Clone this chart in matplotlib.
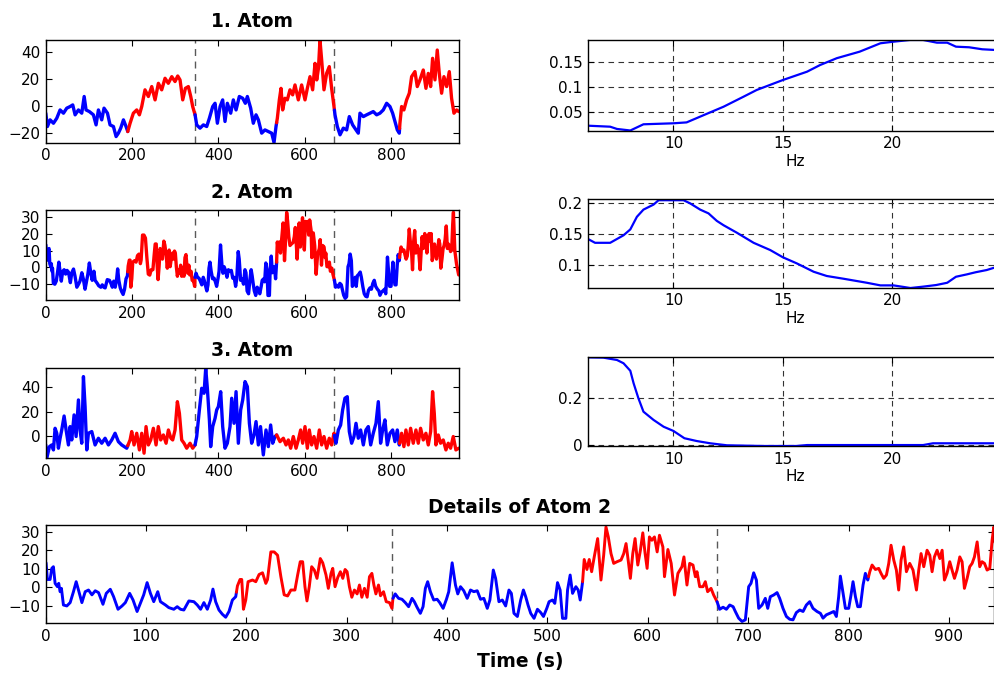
import numpy as np
import matplotlib
matplotlib.use('Agg')
import matplotlib.pyplot as plt

plt.rcParams['font.family'] = ['DejaVu Sans']

# state changes (blue / red segments) and marked boundaries, seconds
state_edges = [0, 190, 346, 535, 669, 820, 957]
state_colors = ['#0000ff', '#ff0000']
marks = [345, 669]

# atom 1 time course
t1 = [0, 3.9, 10, 17.8, 25.5, 33.2, 41, 48.6, 56.4, 62.5, 68, 75.7, 83.4, 89, 93.4, 101, 110.4, 116.6,
      122, 129.7, 135, 143, 149, 156.8, 163, 168.3, 173.7, 180, 186, 190,
      195.4, 203, 210.8, 217, 222.4, 230, 237.8, 245.6, 253.3, 261, 268.7, 276.4, 284, 292, 299.6,
      305.8, 311.2, 317.4, 323.6, 330.5, 336, 340.5, 346,
      349.8, 357.5, 365.3, 373, 379.2, 386.9, 392.3, 397.7, 404, 410, 415.4, 420.8, 428.6, 434.7,
      441, 448.6, 456.4, 462.5, 467.2, 474.9, 481, 487.3, 492.7, 500.4, 508, 515.8, 523.6, 529,
      533.6, 536.7,
      541.3, 545.2, 549, 554.4, 559.8, 566, 572.2, 577.6, 585.3, 593, 600.8, 606.2, 612.4, 618.5,
      624, 628, 632, 635.5, 639.4, 644.8, 651, 657.1, 662.5, 668,
      670.3, 675.7, 682, 689.6, 697.3, 703.5, 711.2, 719, 724.3, 728.2, 736, 743.6, 751.4, 759,
      766.8, 774.5, 782.2, 790, 797.7, 803.9, 809.3, 814.7, 819.3,
      820.8, 824.7, 830, 836.3, 842.5, 847.9, 855.6, 861, 867.2, 874.9, 881.1, 886.5, 892, 896.5,
      902, 907.3, 912, 917.4, 922.8, 929, 935.2, 940.5, 946, 952.2, 957]
y1 = [-5.3, -15.1, -10.2, -12.7, -9, -2.9, -5.3, -1.6, -0.4, 0.8, -6.5, -2.9, -5.3, 7, -2.9, -4.1, -6.5, -13.9,
      -2.9, -10.2, -1.6, -5.3, -13.9, -15.1, -22.5, -20, -16.3, -10.2, -15.1, -18.8,
      -12.7, -5.3, -2.9, -6.5, -0.4, 11.9, 7, 14.3, 4.5, 16.7, 11.9, 20.4, 16.7, 21.6, 18,
      22.1, 19.2, 4.5, 13, 14.3, 7, -0.4, -6.5,
      -13.9, -16.3, -13.9, -15.1, -9, -0.4, 2, -12.7, -0.4, 4.5, -11.4, 2, -5.3, 4.5,
      -2.9, 7, 5.7, 2, 7, -1.6, -12.7, -6.5, -10.2, -20, -17.6, -18.8, -20, -26.9,
      -15.1, -9,
      4.5, 13, -2.9, 5.7, 4.5, 11.9, 8.2, 15.5, 4.5, 15.5, 4.5, 13, 21.6, 11.9,
      31.4, 19.2, 27.8, 48.6, 33.9, 11.9, 24.1, 29, 13, -0.4,
      -6.5, -15.1, -21.2, -16.3, -17.6, -7.8, -13.9, -17.6, -20, -5.3, -7.8, -6.5, -5.3, -4.1,
      -6.5, -5.3, -2.9, 2, -0.4, -5.3, -11.4, -17.6, -20,
      -12.7, -0.4, -2.9, 4.5, 9.4, 21.6, 25.3, 14.3, 19.2, 26.5, 13, 24, 14.3, 35.1,
      19.2, 41.2, 24, 9.4, 21.6, 14.3, 25.3, 5.7, -5.3, -2.9, -4.1]

# atom 2 time course (also shown in detail)
t2 = [0.3, 1.6, 4.3, 6, 7.6, 9.3, 11.6, 12.9, 14.3, 15.6, 17.6, 21, 24.3, 27.6, 30.3, 32.6, 36, 39.3,
      42.6, 46, 49.3, 52.6, 57, 60.3, 64.3, 67.6, 72, 76, 79.3, 83.6, 87, 91, 93.6, 97.6, 101, 104.3,
      107.6, 111.6, 114.3, 119.3, 122.6, 127.6, 131, 134.3, 137.6, 142.6, 147.6, 151, 154.3, 157.6,
      161, 164.3, 166.6, 169.3, 172.6, 176, 179.3, 182.6, 186, 189.3, 191,
      193.6, 195.3, 197, 199.3, 201.6, 206, 209.3, 212.6, 216, 219.3, 221, 224.3, 227.6, 231, 234.3,
      237.6, 241, 244.3, 248.3, 251, 253.6, 256, 258.3, 260.3, 262.6, 265, 267.6, 270.3, 273.6, 276,
      279.3, 281.6, 284.3, 286, 288.3, 291, 293.6, 296, 298.3, 300.3, 302.6, 305, 307.6, 310.3,
      312.6, 315, 317.6, 320.3, 322.6, 325, 327, 329, 331.6, 333.6, 336.6, 339.3, 342.6, 345,
      346, 348.3, 351.6, 355, 358.3, 361.6, 365, 367.3, 370, 373.3, 376, 378.3, 380.6, 383.3, 386.6,
      390, 392.6, 396, 399.3, 401.6, 405, 408.3, 410.6, 413.3, 416.6, 420, 423.3, 426.6, 430, 433.3,
      436.6, 440, 442.6, 446, 448.3, 451.6, 455, 458.3, 461.6, 464, 466.6, 470, 473.3, 476, 478.3,
      480.6, 483.3, 486.6, 490, 493.3, 496, 499.3, 501.6, 505, 507.3, 510, 512.6, 515, 518.3, 520,
      522.6, 525, 528.3, 530.6, 532.6, 535,
      536.6, 539.3, 541.6, 544, 546.6, 550, 553.3, 556, 558.3, 560.6, 563.3, 566, 569.3, 573.3, 576,
      578.3, 580.6, 582.6, 585, 587.3, 590, 592.6, 595, 597.3, 599.3, 601.6, 604, 606.6, 609.3,
      611.6, 615, 616.6, 620, 623.3, 626.6, 630, 634, 636, 639, 641.7, 645, 647.4, 649, 651.7, 655,
      657.3, 659.6, 663, 665.6, 669,
      671.6, 675, 678.3, 681.6, 685, 687.2, 690.5, 693.9, 697.2, 700.5, 702.8, 705.5, 708.2, 710.5,
      713.8, 717.1, 719.5, 722.1, 725.4, 728.8, 731.4, 734.7, 738.1, 741.4, 744.7, 748, 751.4, 754.7,
      758, 761.3, 764.6, 768.6, 772, 774.6, 777.9, 781.3, 785.3, 787.9, 790.2, 791.9, 794.6, 796.9,
      800.2, 802.5, 804.5, 806.9, 809.2, 811.8, 814.5, 816.8, 819.2, 821.2,
      823.5, 826.8, 830.1, 832.4, 835.1, 837.8, 840.1, 842.4, 845.1, 847.7, 850, 852.4, 855, 857.7,
      861, 864.3, 867.7, 870, 872.3, 875, 878.3, 881, 883.3, 885.6, 888.3, 891, 893.3, 895.6, 898.2,
      900.9, 903.2, 905.6, 908.2, 910.9, 913.2, 915.5, 918.2, 920.8, 923.2, 925.5, 928.2, 930.8,
      933.1, 935.5, 938.1, 940.8, 943.1, 944.8, 948, 952, 957]
y2 = [13.3, 4.3, 4.3, 10.3, 11.2, 2.2, 0.4, 2.2, -2.3, -0.5, -9.5, -10, -8.2, -2.3, 3.1, -1.4, -8.2, -2.3,
      -1.4, -4, -1.8, -2.8, -9.1, -3.2, -1, -5, -11.8, -10, -8.2, -3.2, -6.8, -13, -9.5, -4, 2.6, -3.2,
      -7.7, -2.3, -7.7, -9.5, -10.9, -11.8, -10.4, -11.8, -12.2, -7.3, -7.7, -9.5, -11.8, -8.2,
      -11.8, -6.8, -0.9, -7.7, -12.2, -14.5, -16.1, -13, -6.8, -5, 0.8,
      4.3, 4.3, -11.8, -6.8, 3.1, 4.0, 3.1, 7.0, 7.9, 2.2, 4.3, 19.2, 19.2, 17.4, 5.8,
      -4, -4.6, -1.4, -1.4, 6.7, 13.9, 13.9, 0.4, -7.3, 0.4, 11.2, 9.4, 4.9, 15.6, 13.3,
      6.7, -0.5, 7.6, 10.3, 0.4, 5.4, 8.5, 4.9, 9.7, 8.5, 0.4, -5.3, -1.4, -3.5,
      1.3, -5.3, -0.5, -5.3, 5.8, 7.6, 1.3, -3.5, 1.3, -4.5, -2.3, -7.7, -8.2, -11.3,
      -5.9, -3.5, -5.9, -6.4, -8.2, -10.4, -5.9, -7.7, -10.7, -14, -10.4, -0.5, 3.1, -2.3, -6.8,
      -6.4, -8.2, -11.3, -6.4, -2.3, 13.3, 1.3, -3.5, 0.4, -1.8, -5.9, -1.4, -2.3, -1.8, -6.4,
      -5.9, -11.3, -6.8, 9.4, 4.9, -7.7, -6.8, -10, -1.4, -3.2, -14, -15.7, -6.8, -1.4, -5,
      -9.5, -14, -16.7, -11.8, -13.6, -15.7, -11.3, -7.7, -6.8, -8.6, 2.6, -1.4, -16.7, -16.7, -1.4,
      6.7, -3.2, 0.4, -1.4, -6.8, 3.1,
      15.1, 9.7, 15.1, 8.5, 16.5, 26.4, 4.0, 17.4, 32.7, 27.3, 18.3, 13, 13.9, 14.8, 18.3,
      23.7, 13.9, 4.9, 18.3, 26.4, 12.1, 20.1, 29.5, 18.3, 10.3, 27.3, 25.5, 27.3, 19.2,
      28.2, 21.9, 5.8, 20.5, 13, -4.1, 7.6, 11.2, 16.5, 1.3, 13, 12.1, 5.8, 8.5, 0.4, 0.4,
      3.1, -2.3, -0.5, -4.1, -7.7,
      -11.8, -10.7, -11.8, -9.5, -10.4, -13, -16.6, -18.4, -17.5, 0.4, 2.2, 7.9, 4.0, -11.3,
      -9.5, -5.9, -11.3, -5, -4.1, -2.8, -5.9, -11.3, -15.7, -17.2, -17.5, -13.6, -12.2, -13,
      -9.5, -7.7, -11.3, -13, -14, -16.6, -14.8, -14, -13, -15.7, -5, 6.1, -3.2, -11.3,
      -11.3, -4.1, 3.1, -5, -10.4, -10.4, 1.3, 7.6, 4.0, 8.5,
      12.1, 9.7, 10.3, 7.6, 4.9, 6.7, 13, 22.8, 14.8, 9.4, -1.4, 14.8, 21.9, 8.5,
      13, 9.4, -1.4, 9.4, 18.3, 11.2, 20.1, 17.4, 8.5, 16.5, 20.1, 15.6, 20.1, 4.0, 7.6,
      13.9, 9.4, 4.9, 9.4, 16.5, 13.9, -0.5, 4.9, 11.2, 13, 16.5, 24.6, 11.2,
      13.9, 13, 9.4, 10.3, 25.5, 32.7, 10, 2, -4.5]

# atom 3 time course
t3 = [0, 2.3, 8.5, 13.9, 17.8, 21.6, 25.5, 29.3, 33.2, 37, 42.5, 47.1, 52.5, 56.4, 60.2, 65.6, 70.3,
      75.7, 79.5, 83.4, 87.3, 91.1, 95, 98.8, 106.6, 114.3, 122, 129.7, 137.5, 145.2, 152.9, 160.6,
      168.3, 176, 187.6,
      195.4, 199.2, 204.6, 210.8, 217, 222.4, 227.8, 232.4, 237.8, 243.2, 249.4, 255.6, 260.8, 266.4,
      272.6, 278.8, 284.2, 290, 294.2, 299.6, 305, 309.7, 315, 320.5, 326.6, 334.4, 340.5, 346,
      349.8, 356, 361.4, 366.8, 370.7, 374.5, 379.2, 382.2, 386.9, 392.3, 396.1, 400, 405.4, 410,
      415.4, 420.8, 427, 430.9, 436.3, 441, 446.3, 451.7, 456.4, 461.8, 467.2, 471.9, 477.2, 482.6,
      487.3, 492.7, 497.7, 504.2, 510.4, 515.8, 521.2, 525.9, 531.3,
      535.1, 542.9, 550.6, 556.8, 562.2, 567.6, 573.7, 580, 585.3, 590.7, 595.4, 600.8, 606.2,
      610.8, 616.2, 621.6, 627.8, 634, 639.4, 644.8, 651, 657.1, 662.5, 668,
      672.6, 678, 683.4, 688, 693.4, 698.8, 703.5, 708.9, 714.3, 719, 724.3, 729.7, 736, 742,
      747.5, 753, 759, 765.3, 770.7, 776, 780.7, 786, 791.5, 797.7, 803.9, 809.3, 814.7, 819.3,
      824.7, 830, 834.7, 840.2, 845.6, 851.7, 857.9, 863.3, 868.7, 874.9, 881, 886.5, 892, 896.5,
      900.4, 904.2, 909.7, 915, 921.2, 927.4, 932.8, 938.2, 944.4, 950.5, 957]
y3 = [-7.4, -18.4, -8.8, -7.4, -11.5, 6.3, 2.2, -10.1, -1.9, 4.9, 16.4, 4.9, -7.4, 7.7, -3.3, 17.3, -0.5,
      29.6, 4.9, -6, 48.8, 24.1, -11.5, 2.2, 3.6, -7.4, -1.9, -6, -1.9, -7.4, -3.3, 2.2,
      -4.7, -7.4, -10.1,
      -3.3, 3.6, -7.4, 2.2, -11.5, 2.2, -14.2, 7.7, -7.4, -3.3, 6.3, -7.4, 7.7, -3.3,
      0.8, -6, 4.9, -1.9, -3.3, 4.9, 28.2, 18.6, -3.3, -6, -10.1, -6, -10.1, -7.4,
      -0.5, 21.4, 39.2, 35.1, 55.6, 39.2, 13.2, -8.8, 7.7, 14.5, 21.4, 24.1, 36.4, 7.7,
      -10.1, -6, 7.7, 31, 10.4, 36.4, -6, 21.4, 29.6, 44.7, 40.5, 10.4, -6, 0.8,
      11.8, -7.4, 7.7, -15.6, 4.9, -8.8, 9, -6, -0.5,
      0.8, -4.7, -1.9, -7.4, -3.3, -10.1, -0.5, -10.1, -3.3, 4.9, -6, 7.7, -10.1,
      4.9, -7.4, -0.5, -10.1, 4.9, -7.4, -0.5, -10.1, -1.9, -7.4, 2.2,
      -6, 4.9, 9, 21.4, 31, 32.3, 3.6, -6, -0.5, 10.4, -1.9, 4.9, -7.4, 4.9,
      7.7, -7.4, 2.2, 10.4, 28.2, -6, 4.9, 13.2, -7.4, 2.2, 4.9, -4.7, 4.9, -7.4,
      2.2, -8.8, 4.9, -7.4, 6.3, -6, 4.9, -6, 6.3, -3.3, 2.2, -7.4, 3.6, 36.4,
      18.6, -7.4, 0.8, -6, -3.3, -11.5, -6, -10.1, -0.5, -11.5, -10.1]

# spectra of the atoms
f1 = [6.1, 7.11, 7.42, 8.03, 8.63, 10.0, 10.6, 11.68, 12.29, 13.2, 13.8, 15.0, 16.1, 16.7, 17.46,
      18.5, 19.45, 20.05, 20.8, 21.4, 22.03, 22.5, 22.9, 23.5, 24.1, 24.7]
s1 = [0.022, 0.020, 0.0155, 0.0124, 0.0248, 0.0268, 0.0286, 0.0487, 0.060, 0.080, 0.0934, 0.1134,
      0.130, 0.1434, 0.157, 0.170, 0.1868, 0.190, 0.1934, 0.1934, 0.188, 0.188, 0.180, 0.1788,
      0.1748, 0.1734]
f2 = [6.1, 6.42, 7.11, 7.72, 8.03, 8.33, 8.63, 9.09, 9.32, 10.46, 10.76, 11.22, 11.6, 11.98, 12.29,
      12.9, 13.66, 14.42, 15.0, 15.64, 16.4, 17.0, 17.77, 18.83, 19.45, 20.05, 20.82, 21.4, 22.0,
      22.5, 22.9, 23.4, 23.8, 24.3, 24.7]
s2 = [0.142, 0.136, 0.136, 0.148, 0.1574, 0.1775, 0.189, 0.197, 0.204, 0.204, 0.199, 0.189, 0.183,
      0.171, 0.164, 0.152, 0.136, 0.1244, 0.1128, 0.103, 0.0898, 0.083, 0.0786, 0.0722, 0.068,
      0.068, 0.0638, 0.066, 0.0686, 0.0722, 0.0818, 0.0856, 0.089, 0.0925, 0.0968]
f3 = [6.1, 6.8, 7.42, 7.72, 8.03, 8.18, 8.4, 8.63, 9.09, 9.55, 10.0, 10.5, 11.07, 11.68, 12.44,
      14.1, 15.6, 16.1, 21.4, 21.85, 24.7]
s3 = [0.374, 0.373, 0.363, 0.349, 0.317, 0.264, 0.2, 0.143, 0.108, 0.079, 0.061, 0.03, 0.018,
      0.0085, 0.0, -0.003, -0.003, 0.001, 0.001, 0.0085, 0.0085]

titles = ['1. Atom', '2. Atom', '3. Atom']
left_yticks = [[-20, 0, 20, 40], [-10, 0, 10, 20, 30], [0, 20, 40]]
left_ylims = [(-27, 48.6), (-19.5, 34), (-18.4, 55.6)]
right_yticks = [[0.05, 0.1, 0.15], [0.1, 0.15, 0.2], [0, 0.2]]
right_yticklabels = [['0.05', '0.1', '0.15'], ['0.1', '0.15', '0.2'], ['0', '0.2']]
right_ylims = [(0.012, 0.1934), (0.0643, 0.2054), (-0.003, 0.377)]


def style_axes(ax):
    ax.tick_params(direction='in', top=True, right=True, length=4, width=0.8,
                   labelsize=11, pad=4)
    for sp in ax.spines.values():
        sp.set_linewidth(1.0)


def draw_states(ax, t, y, lw):
    t = np.asarray(t, float)
    y = np.asarray(y, float)
    for i in range(len(state_edges) - 1):
        a, b = state_edges[i], state_edges[i + 1]
        ts = np.concatenate([[a], t[(t > a) & (t < b)], [b]])
        ys = np.interp(ts, t, y)
        ax.plot(ts, ys, color=state_colors[i % 2], lw=lw, solid_joinstyle='round',
                solid_capstyle='round')
    for m in marks:
        ax.axvline(m, color='0.35', lw=1.0, ls=(0, (5, 4)), zorder=0)


fig = plt.figure(figsize=(9.95, 6.73), dpi=100)

left_pos = [[0.046, 0.788, 0.415, 0.1526],
            [0.046, 0.554, 0.415, 0.1337],
            [0.046, 0.319, 0.415, 0.1337]]
right_pos = [[0.591, 0.8058, 0.416, 0.1348],
             [0.591, 0.5725, 0.416, 0.1313],
             [0.591, 0.3373, 0.416, 0.1327]]

series = [(t1, y1), (t2, y2), (t3, y3)]
spectra = [(f1, s1), (f2, s2), (f3, s3)]

for k in range(3):
    ax = fig.add_axes(left_pos[k])
    draw_states(ax, *series[k], lw=2.4)
    ax.set_xlim(0, 957)
    ax.set_ylim(*left_ylims[k])
    ax.set_xticks([0, 200, 400, 600, 800])
    ax.set_yticks(left_yticks[k])
    ax.set_title(titles[k], fontsize=13.5, fontweight='bold', pad=9)
    style_axes(ax)

    ax = fig.add_axes(right_pos[k])
    ax.plot(*spectra[k], color='#0000ff', lw=1.6)
    ax.set_xlim(6.1, 25)
    ax.set_ylim(*right_ylims[k])
    ax.set_xticks([10, 15, 20])
    ax.set_yticks(right_yticks[k])
    ax.set_yticklabels(right_yticklabels[k])
    ax.grid(True, color='0.2', ls=(0, (5, 4)), lw=0.8)
    ax.set_xlabel('Hz', fontsize=11, labelpad=2)
    style_axes(ax)

ax = fig.add_axes([0.046, 0.0738, 0.953, 0.146])
draw_states(ax, t2, y2, lw=2.1)
ax.set_xlim(0, 945)
ax.set_ylim(-19.4, 33.7)
ax.set_xticks(np.arange(0, 901, 100))
ax.set_yticks([-10, 0, 10, 20, 30])
ax.set_title('Details of Atom 2', fontsize=13.5, fontweight='bold', pad=9)
ax.set_xlabel('Time (s)', fontsize=13.5, fontweight='bold', labelpad=6)
style_axes(ax)

fig.savefig('out.png', dpi=100)
